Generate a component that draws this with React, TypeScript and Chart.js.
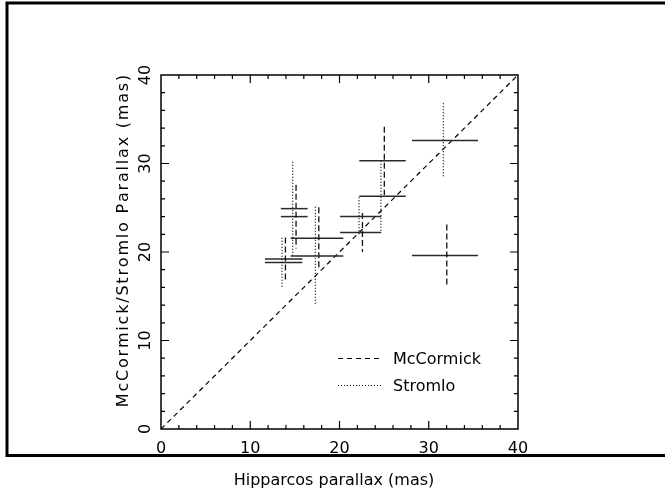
import React, { useEffect, useRef } from 'react';
import { Chart, registerables } from 'chart.js';

Chart.register(...registerables);

// ---- data ----
const hipparcos = [13.74, 14.93, 17.48, 22.37, 24.82, 31.82];
const hipparcosErr = [2.1, 1.5, 2.95, 2.3, 2.6, 3.7];
const mccormick = [19.2, 24.0, 21.55, 22.2, 30.3, 19.6];
const mccormickErr = [2.45, 3.6, 3.5, 2.2, 3.85, 3.5];
const stromlo = [18.8, 24.9, 19.55, 24.0, 26.3, 32.6];
const stromloErr = [2.8, 5.3, 5.55, 2.2, 4.0, 4.2];
const diagonalLine = [
  { x: 0, y: 0 },
  { x: 40, y: 40 },
];
const axisMin = 0;
const axisMax = 40;
const majorStep = 10;
const minorStep = 2;
const yTickLabels = ['0', '10', '20', '30', '40'];
const seriesNames = ['McCormick', 'Stromlo'];
const xTitle = 'Hipparcos parallax (mas)';
const yTitle = 'McCormick/Stromlo Parallax (mas)';

const FONT = '"DejaVu Sans", sans-serif';

function spacedText(ctx: any, text: string, cx: number, cy: number, spacing: number) {
  const chars = Array.from(text);
  const widths = chars.map((c) => ctx.measureText(c).width);
  const total = widths.reduce((a, b) => a + b, 0) + spacing * (chars.length - 1);
  let x = cx - total / 2;
  const prevAlign = ctx.textAlign;
  ctx.textAlign = 'left';
  chars.forEach((c, i) => {
    ctx.fillText(c, x, cy);
    x += widths[i] + spacing;
  });
  ctx.textAlign = prevAlign;
}

const decorPlugin = {
  id: 'decor',
  afterDatasetsDraw(chart: any) {
    const ctx = chart.ctx;
    const xs = chart.scales.x;
    const ys = chart.scales.y;
    ctx.save();
    const series = [
      { vals: mccormick, errs: mccormickErr, dash: [6, 3], off: 1.8 },
      { vals: stromlo, errs: stromloErr, dash: [1, 2], off: -1.6 },
    ];
    series.forEach((s) => {
      hipparcos.forEach((hx, i) => {
        const py = ys.getPixelForValue(s.vals[i]);
        const x0 = xs.getPixelForValue(hx - hipparcosErr[i]);
        const x1 = xs.getPixelForValue(hx + hipparcosErr[i]);
        ctx.strokeStyle = '#2a2a2a';
        ctx.lineWidth = 1.5;
        ctx.setLineDash([]);
        ctx.beginPath();
        ctx.moveTo(x0, py);
        ctx.lineTo(x1, py);
        ctx.stroke();
        const px = xs.getPixelForValue(hx) + s.off;
        const y0 = ys.getPixelForValue(s.vals[i] + s.errs[i]);
        const y1 = ys.getPixelForValue(s.vals[i] - s.errs[i]);
        ctx.strokeStyle = '#111';
        ctx.lineWidth = 1.3;
        ctx.setLineDash(s.dash);
        ctx.beginPath();
        ctx.moveTo(px, y0);
        ctx.lineTo(px, y1);
        ctx.stroke();
      });
    });
    ctx.restore();
  },
  afterDraw(chart: any) {
    const ctx = chart.ctx;
    const { left, right, top, bottom } = chart.chartArea;
    const xs = chart.scales.x;
    const ys = chart.scales.y;
    ctx.save();
    ctx.strokeStyle = '#000';
    ctx.fillStyle = '#000';
    ctx.setLineDash([]);

    // outer figure frame
    ctx.lineWidth = 3;
    ctx.strokeRect(7, 3, 680, 452.5);

    // plot box
    ctx.lineWidth = 1.5;
    ctx.strokeRect(left, top, right - left, bottom - top);

    // inward ticks on all sides
    ctx.lineWidth = 1.2;
    for (let v = axisMin + minorStep; v < axisMax; v += minorStep) {
      const len = v % majorStep === 0 ? 8 : 4;
      const px = xs.getPixelForValue(v);
      const py = ys.getPixelForValue(v);
      ctx.beginPath();
      ctx.moveTo(px, bottom);
      ctx.lineTo(px, bottom - len);
      ctx.moveTo(px, top);
      ctx.lineTo(px, top + len);
      ctx.moveTo(left, py);
      ctx.lineTo(left + len, py);
      ctx.moveTo(right, py);
      ctx.lineTo(right - len, py);
      ctx.stroke();
    }

    // rotated y tick labels
    ctx.font = `16px ${FONT}`;
    ctx.textAlign = 'center';
    ctx.textBaseline = 'alphabetic';
    yTickLabels.forEach((lab) => {
      const py = ys.getPixelForValue(Number(lab));
      ctx.save();
      ctx.translate(149.5, py);
      ctx.rotate(-Math.PI / 2);
      ctx.fillText(lab, 0, 0);
      ctx.restore();
    });

    // y title
    ctx.save();
    ctx.translate(127.5, 241);
    ctx.rotate(-Math.PI / 2);
    spacedText(ctx, yTitle, 0, 0, 1.8);
    ctx.restore();

    // x title
    ctx.fillText(xTitle, 334, 485);

    // legend
    const lx0 = 338;
    const lx1 = 382;
    const rows = [
      { y: 358.5, ty: 364, dash: [5, 4] },
      { y: 385.5, ty: 390.5, dash: [1, 2] },
    ];
    ctx.lineWidth = 1.2;
    ctx.textAlign = 'left';
    rows.forEach((r, i) => {
      ctx.setLineDash(r.dash);
      ctx.beginPath();
      ctx.moveTo(lx0, r.y);
      ctx.lineTo(lx1, r.y);
      ctx.stroke();
      ctx.setLineDash([]);
      ctx.fillText(seriesNames[i], 393, r.ty);
    });
    ctx.restore();
  },
};

export default function App() {
  const ref = useRef<HTMLCanvasElement | null>(null);
  useEffect(() => {
    if (!ref.current) return;
    const chart = new Chart(ref.current, {
      type: 'scatter',
      data: {
        datasets: [
          {
            label: seriesNames[0],
            data: hipparcos.map((x, i) => ({ x, y: mccormick[i] })),
            pointRadius: 0,
            showLine: false,
          },
          {
            label: seriesNames[1],
            data: hipparcos.map((x, i) => ({ x, y: stromlo[i] })),
            pointRadius: 0,
            showLine: false,
          },
          {
            type: 'line',
            label: 'y=x',
            data: diagonalLine,
            borderColor: '#000',
            borderWidth: 1.2,
            borderDash: [5, 4],
            pointRadius: 0,
            showLine: true,
            fill: false,
          } as any,
        ],
      },
      options: {
        responsive: false,
        animation: false,
        devicePixelRatio: 1,
        layout: { padding: { top: 75, right: 147, left: 0, bottom: 0 } },
        plugins: {
          legend: { display: false },
          tooltip: { enabled: false },
          title: { display: false },
        },
        scales: {
          x: {
            type: 'linear',
            min: axisMin,
            max: axisMax,
            grid: { display: false },
            border: { display: false },
            ticks: {
              stepSize: majorStep,
              color: '#000',
              padding: 2,
              maxRotation: 0,
              font: { family: FONT, size: 16 },
            },
            afterFit: (s: any) => {
              s.height = 62;
            },
          },
          y: {
            type: 'linear',
            min: axisMin,
            max: axisMax,
            grid: { display: false },
            border: { display: false },
            ticks: { stepSize: majorStep, display: false },
            afterFit: (s: any) => {
              s.width = 161;
            },
          },
        },
      },
      plugins: [decorPlugin],
    });
    return () => chart.destroy();
  }, []);
  return (
    <div style={{ position: 'fixed', left: 0, top: 0, width: 665, height: 491, background: '#fff' }}>
      <canvas ref={ref} width={665} height={491} style={{ display: 'block' }} />
    </div>
  );
}
